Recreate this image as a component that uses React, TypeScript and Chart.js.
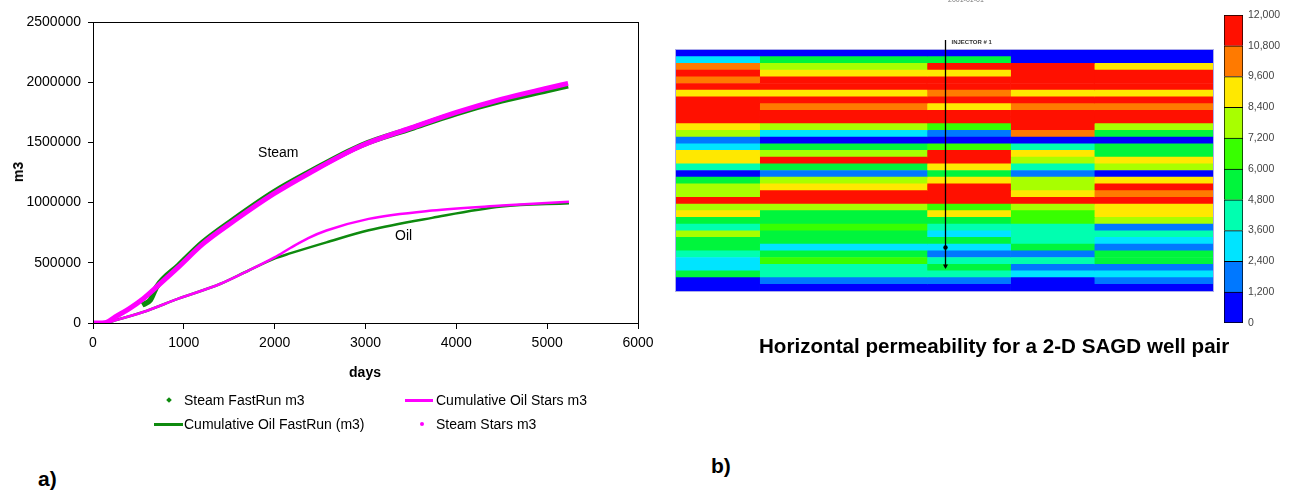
import React, { useEffect, useRef } from 'react';
import { Chart, registerables } from 'chart.js';

Chart.register(...registerables);

const FONT = '"Liberation Sans", Arial, Helvetica, sans-serif';

// ---------- Left chart data (days, m3) ----------
const steamStarsDays = [0, 100, 150, 244, 400, 553, 700, 940, 1210, 1558, 1984, 2370, 2950, 3500, 4000, 4500, 5000, 5230];
const steamStarsM3 = [0, 0, 5000, 50000, 120000, 202000, 300000, 464000, 657000, 851000, 1070000, 1240000, 1470000, 1620000, 1750000, 1860000, 1950000, 1990000];

const steamFastRunDays = [540, 630, 700, 940, 1210, 1558, 1984, 2370, 2950, 3500, 4000, 4500, 5000, 5230];
const steamFastRunM3 = [150000, 190000, 300000, 478000, 672000, 866000, 1085000, 1250000, 1475000, 1615000, 1740000, 1845000, 1930000, 1970000];

const oilStarsDays = [0, 130, 244, 553, 940, 1404, 1713, 2003, 2177, 2370, 2570, 3035, 3733, 4500, 5240];
const oilStarsM3 = [0, 0, 22000, 91000, 202000, 326000, 436000, 547000, 625000, 705000, 768000, 865000, 934000, 975000, 1008000];

const oilFastRunDays = [0, 150, 244, 553, 940, 1404, 1713, 2003, 2177, 2570, 3035, 3733, 4497, 5240];
const oilFastRunM3 = [0, 0, 22000, 91000, 202000, 326000, 436000, 537000, 580000, 670000, 770000, 873000, 967000, 994000];

const xTicksMax = 6000;
const xTickStep = 1000;
const yTicksMax = 2500000;
const yTickStep = 500000;

const annotationText = ['Steam', 'Oil'];
const annotationDay = [2040, 3420];
const annotationM3 = [1410000, 720000];

// ---------- Right chart data (permeability, mD) ----------
const colEdges = [0, 1, 3, 4, 5, 6.42];
const blockI1 = [600, 3000, 10200, 11400, 10200, 11400, 9000, 11400, 11400, 11400, 11400, 9000, 7800, 1800, 3000, 9000, 9000, 4200, 600, 5400, 7800, 7800, 11400, 7800, 9000, 5400, 4200, 7800, 5400, 5400, 4200, 3000, 3000, 5400, 600, 600];
const blockI2 = [600, 5400, 7800, 9000, 11400, 11400, 9000, 11400, 10200, 11400, 11400, 7800, 3000, 600, 5400, 7800, 11400, 5400, 1800, 7800, 9000, 11400, 11400, 7800, 5400, 5400, 6600, 5400, 5400, 3000, 5400, 6600, 4200, 4200, 1800, 600];
const blockI3 = [600, 5400, 11400, 9000, 11400, 11400, 10200, 11400, 9000, 11400, 11400, 6600, 1800, 600, 6600, 11400, 11400, 9000, 5400, 9000, 11400, 11400, 11400, 6600, 9000, 5400, 4200, 3000, 5400, 3000, 1800, 4200, 5400, 4200, 1800, 600];
const blockI4 = [600, 600, 11400, 11400, 11400, 11400, 9000, 11400, 10200, 11400, 11400, 11400, 10200, 600, 4200, 9000, 7800, 4200, 1800, 7800, 7800, 9000, 11400, 7800, 6600, 6600, 4200, 4200, 4200, 5400, 1800, 4200, 1800, 3000, 600, 600];
const blockI5 = [600, 600, 9000, 11400, 11400, 11400, 9000, 11400, 10200, 11400, 11400, 7800, 5400, 600, 5400, 5400, 9000, 7800, 600, 9000, 11400, 10200, 11400, 9000, 9000, 7800, 1800, 4200, 3000, 1800, 5400, 5400, 1800, 3000, 1800, 600];
const blocks = [blockI1, blockI2, blockI3, blockI4, blockI5];

const wellX = 3.21;
const wellPerfLayers = [30, 33];
const wellName = 'INJECTOR # 1';

const colorbarMax = 12000;
const colorbarStep = 1200;
const binColors = ['#0000FF', '#0078FF', '#00E4FF', '#00FFB0', '#00F53C', '#38FF00', '#A8FF00', '#FFE800', '#FF7A00', '#FF1000'];

function colorFor(v: number) {
  return binColors[Math.min(binColors.length - 1, Math.floor(v / colorbarStep))];
}

const xy = (days: number[], vals: number[]) => days.map((d, i) => ({ x: d, y: vals[i] }));

export default function App() {
  const lineRef = useRef<HTMLCanvasElement>(null);
  const heatRef = useRef<HTMLCanvasElement>(null);
  const barRef = useRef<HTMLCanvasElement>(null);

  useEffect(() => {
    document.body.style.margin = '0';
    const charts: Chart[] = [];

    const tickFont = { family: FONT, size: 14 };

    const frame = {
      id: 'frame',
      afterDatasetsDraw(chart: any) {
        const { ctx, chartArea, scales } = chart;
        ctx.save();
        ctx.strokeStyle = '#000';
        ctx.lineWidth = 1;
        ctx.strokeRect(chartArea.left + 0.5, chartArea.top + 0.5, chartArea.right - chartArea.left, chartArea.bottom - chartArea.top);
        ctx.fillStyle = '#000';
        ctx.font = `14px ${FONT}`;
        ctx.textAlign = 'center';
        ctx.textBaseline = 'middle';
        annotationText.forEach((t, i) => {
          ctx.fillText(t, scales.x.getPixelForValue(annotationDay[i]), scales.y.getPixelForValue(annotationM3[i]));
        });
        ctx.restore();
      },
    };

    const smooth = { cubicInterpolationMode: 'monotone' as const };

    charts.push(
      new Chart(lineRef.current!, {
        type: 'scatter',
        data: {
          datasets: [
            { label: 'Steam Stars m3', data: xy(steamStarsDays, steamStarsM3), showLine: true, borderColor: '#FF00FF', backgroundColor: '#FF00FF', borderWidth: 5, pointRadius: 0, ...smooth },
            { label: 'Steam FastRun m3', data: xy(steamFastRunDays, steamFastRunM3), showLine: true, borderColor: '#0E8A0E', backgroundColor: '#0E8A0E', borderWidth: 5.5, pointRadius: 0, ...smooth },
            { label: 'Cumulative Oil Stars m3', data: xy(oilStarsDays, oilStarsM3), showLine: true, borderColor: '#FF00FF', borderWidth: 2.5, pointRadius: 0, ...smooth },
            { label: 'Cumulative Oil FastRun (m3)', data: xy(oilFastRunDays, oilFastRunM3), showLine: true, borderColor: '#0E8A0E', borderWidth: 2.5, pointRadius: 0, ...smooth },
          ],
        },
        options: {
          responsive: false,
          animation: false,
          devicePixelRatio: 1,
          layout: { padding: { left: 0, right: 22, top: 22, bottom: 0 } },
          plugins: { legend: { display: false }, tooltip: { enabled: false } },
          scales: {
            x: {
              type: 'linear',
              min: 0,
              max: xTicksMax,
              ticks: { stepSize: xTickStep, callback: (v: any) => String(v), color: '#000', font: tickFont, padding: 6, maxRotation: 0 },
              grid: { drawOnChartArea: false, tickLength: 6, color: '#000' },
              border: { color: '#000', width: 1 },
              afterFit: (s: any) => { s.height = 47; },
            },
            y: {
              min: 0,
              max: yTicksMax,
              ticks: { stepSize: yTickStep, callback: (v: any) => String(v), color: '#000', font: tickFont, padding: 7 },
              grid: { drawOnChartArea: false, tickLength: 5, color: '#000' },
              border: { color: '#000', width: 1 },
              afterFit: (s: any) => { s.width = 93; },
            },
          },
        } as any,
        plugins: [frame],
      })
    );

    const wellPlugin = {
      id: 'well',
      afterDatasetsDraw(chart: any) {
        const { ctx, chartArea, scales } = chart;
        ctx.save();
        ctx.strokeStyle = 'rgba(150,150,230,0.8)';
        ctx.lineWidth = 1;
        ctx.strokeRect(chartArea.left - 0.5, chartArea.top - 0.5, chartArea.right - chartArea.left + 1, chartArea.bottom - chartArea.top + 1);
        const x = Math.round(scales.x.getPixelForValue(wellX)) + 0.5;
        const yTop = chartArea.top - 10;
        const y1 = scales.y.getPixelForValue(wellPerfLayers[0] - 1);
        const y2 = scales.y.getPixelForValue(wellPerfLayers[1] - 1);
        ctx.strokeStyle = '#000';
        ctx.fillStyle = '#000';
        ctx.lineWidth = 1.3;
        ctx.beginPath();
        ctx.moveTo(x, yTop);
        ctx.lineTo(x, y2);
        ctx.stroke();
        ctx.beginPath();
        ctx.arc(x, y1, 2.2, 0, Math.PI * 2);
        ctx.fill();
        ctx.beginPath();
        ctx.moveTo(x - 2.5, y2 - 3);
        ctx.lineTo(x + 2.5, y2 - 3);
        ctx.lineTo(x, y2 + 1.5);
        ctx.closePath();
        ctx.fill();
        ctx.font = `bold 6px ${FONT}`;
        ctx.textBaseline = 'middle';
        ctx.textAlign = 'left';
        ctx.fillStyle = '#333';
        ctx.fillText(wellName, x + 6, yTop + 2);
        ctx.restore();
      },
    };

    const layerLabels = blockI1.map((_, i) => `K${i + 1}`);
    charts.push(
      new Chart(heatRef.current!, {
        type: 'bar',
        data: {
          labels: layerLabels,
          datasets: blocks.map((col, c) => ({
            label: `I-block ${c + 1}`,
            data: col.map(() => [colEdges[c], colEdges[c + 1]]),
            backgroundColor: col.map(colorFor),
            borderWidth: 0,
            barPercentage: 1,
            categoryPercentage: 1,
            grouped: false,
          })),
        } as any,
        options: {
          indexAxis: 'y',
          responsive: false,
          animation: false,
          devicePixelRatio: 1,
          layout: { padding: { left: 6, right: 7, top: 50, bottom: 9 } },
          plugins: { legend: { display: false }, tooltip: { enabled: false } },
          scales: {
            x: { type: 'linear', min: colEdges[0], max: colEdges[colEdges.length - 1], display: false },
            y: { display: false },
          },
        } as any,
        plugins: [wellPlugin],
      })
    );

    const binStarts = binColors.map((_, i) => i * colorbarStep);
    charts.push(
      new Chart(barRef.current!, {
        type: 'bar',
        data: {
          labels: ['k'],
          datasets: binStarts.map((lo, i) => ({
            label: `${lo}`,
            data: [colorbarStep],
            backgroundColor: binColors[i],
            borderColor: '#000',
            borderWidth: 1,
            borderSkipped: i === 0 ? false : 'start',
            barPercentage: 1,
            categoryPercentage: 1,
          })),
        } as any,
        options: {
          responsive: false,
          animation: false,
          devicePixelRatio: 1,
          layout: { padding: { left: 34, right: 0, top: 15, bottom: 17 } },
          plugins: { legend: { display: false }, tooltip: { enabled: false } },
          scales: {
            x: { stacked: true, display: false },
            y: {
              stacked: true,
              position: 'right',
              min: 0,
              max: colorbarMax,
              ticks: { stepSize: colorbarStep, color: '#444', font: { family: FONT, size: 10.5 }, padding: 5, callback: (v: any) => Number(v).toLocaleString('en-US') },
              grid: { display: false, drawTicks: false, tickLength: 0 },
              border: { display: false },
              afterFit: (s: any) => { s.width = 48; },
            },
          },
        } as any,
      })
    );

    return () => charts.forEach((c) => c.destroy());
  }, []);

  const abs = (o: any) => ({ position: 'absolute' as const, ...o });
  const txt14 = { fontFamily: FONT, fontSize: 14, color: '#000', lineHeight: '16px', whiteSpace: 'nowrap' as const };

  return (
    <div style={{ position: 'relative', width: 1291, height: 491, background: '#fff', overflow: 'hidden', fontFamily: FONT }}>
      <canvas ref={lineRef} width={660} height={370} style={abs({ left: 0, top: 0, width: 660, height: 370 })} />
      <canvas ref={heatRef} width={550} height={300} style={abs({ left: 670, top: 0, width: 550, height: 300 })} />
      <canvas ref={barRef} width={101} height={340} style={abs({ left: 1190, top: 0, width: 101, height: 340 })} />

      <div style={abs({ left: 18, top: 172, transform: 'translate(-50%,-50%) rotate(-90deg)', ...txt14, fontWeight: 'bold' })}>m3</div>
      <div style={abs({ left: 365, top: 372, transform: 'translate(-50%,-50%)', ...txt14, fontWeight: 'bold' })}>days</div>

      {/* legend */}
      <div style={abs({ left: 166.5, top: 397.5, width: 4, height: 4, background: '#0E8A0E', transform: 'rotate(45deg)' })} />
      <div style={abs({ left: 184, top: 400, transform: 'translateY(-50%)', ...txt14 })}>Steam FastRun m3</div>
      <div style={abs({ left: 405, top: 399, width: 28, height: 2.5, background: '#FF00FF' })} />
      <div style={abs({ left: 436, top: 400, transform: 'translateY(-50%)', ...txt14 })}>Cumulative Oil Stars m3</div>
      <div style={abs({ left: 154, top: 423, width: 29, height: 2.5, background: '#0E8A0E' })} />
      <div style={abs({ left: 184, top: 424, transform: 'translateY(-50%)', ...txt14 })}>Cumulative Oil FastRun (m3)</div>
      <div style={abs({ left: 420, top: 422, width: 4, height: 4, borderRadius: 2, background: '#FF00FF' })} />
      <div style={abs({ left: 436, top: 424, transform: 'translateY(-50%)', ...txt14 })}>Steam Stars m3</div>

      <div style={abs({ left: 948, top: -4, fontFamily: FONT, fontSize: 7, color: '#777', whiteSpace: 'nowrap' })}>2001-01-01</div>

      <div style={abs({ left: 759, top: 346, transform: 'translateY(-50%)', fontFamily: FONT, fontSize: 20.6, fontWeight: 'bold', color: '#000', whiteSpace: 'nowrap' })}>
        Horizontal permeability for a 2-D SAGD well pair
      </div>
      <div style={abs({ left: 38, top: 479, transform: 'translateY(-50%)', fontFamily: '"Liberation Sans Narrow", ' + FONT, fontSize: 21, fontWeight: 'bold', color: '#000' })}>a)</div>
      <div style={abs({ left: 711, top: 466, transform: 'translateY(-50%)', fontFamily: '"Liberation Sans Narrow", ' + FONT, fontSize: 21, fontWeight: 'bold', color: '#000' })}>b)</div>
    </div>
  );
}
